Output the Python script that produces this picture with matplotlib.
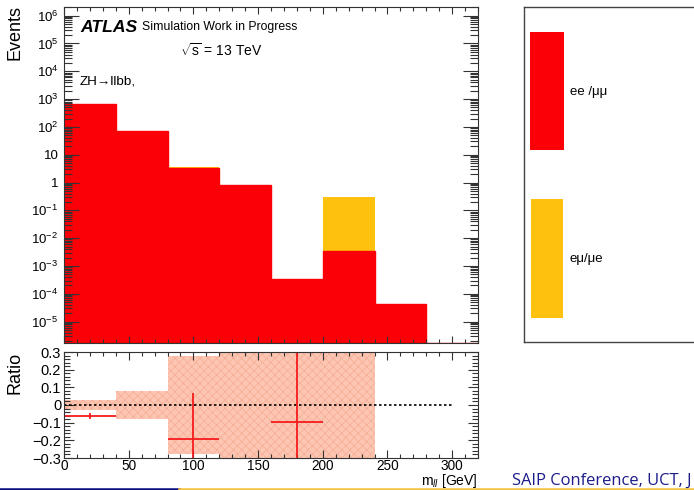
import numpy as np
import matplotlib.pyplot as plt
from matplotlib.patches import Rectangle
from matplotlib.lines import Line2D
from matplotlib.ticker import (LogLocator, FuncFormatter, NullFormatter,
                               MultipleLocator, AutoMinorLocator)

plt.rcParams['font.family'] = ['Liberation Sans', 'DejaVu Sans']
plt.rcParams['mathtext.fontset'] = 'custom'
plt.rcParams['mathtext.rm'] = 'Liberation Sans'
plt.rcParams['mathtext.it'] = 'Liberation Sans:italic'
plt.rcParams['mathtext.bf'] = 'Liberation Sans:bold'
plt.rcParams['hatch.linewidth'] = 0.4

# m_ll bins [GeV] and stacked yields
edges = np.arange(0, 321, 40)
ee_mumu = np.array([680, 69, 3.4, 0.85, 3.5e-4, 3.4e-3, 4.3e-5, 0])
emu_mue = np.array([0, 0, 0.15, 0, 0, 0.297, 0, 0])

# ratio panel: uncertainty band per bin and the measured points
band_err = np.array([0.03, 0.08, 0.28, 1.0, 1.0, 1.0, np.nan, np.nan])
ratio_x = [20, 100, 180]
ratio_y = [-0.063, -0.19, -0.095]
ratio_yerr = [0.016, 0.26, 1.0]
ratio_xerr = 20
ref_end = 300

RED = '#fb0007'
ORANGE = '#fec20e'
BAND = '#fcc6b2'
NAVY = '#1c1c8a'

W, H = 694, 490
fig = plt.figure(figsize=(W / 100, H / 100), dpi=100)


def box(x0, y0, x1, y1):
    return [x0 / W, 1 - y1 / H, (x1 - x0) / W, (y1 - y0) / H]


def label(x, y, s, **kw):
    # place text by pixel position from the top-left corner
    return fig.text(x / W, 1 - y / H, s, **kw)


ax = fig.add_axes(box(64, 7, 478, 343))
rax = fig.add_axes(box(64, 352, 478, 458))
lax = fig.add_axes(box(524, 7, 740, 342))

ylo, yhi = 1.7e-6, 2.05e6
left = edges[:-1]
width = np.diff(edges)

ax.bar(left, ee_mumu, width=width, align='edge', color=RED, linewidth=0)
ax.bar(left, emu_mue, width=width, bottom=ee_mumu, align='edge',
       color=ORANGE, linewidth=0)
ax.stairs(np.clip(ee_mumu, ylo, None), edges, baseline=None, color=RED, lw=1)
ax.set_yscale('log')
ax.set_xlim(0, 320)
ax.set_ylim(ylo, yhi)


def log_label(v, pos):
    n = int(round(np.log10(v)))
    if n < -5 or n > 6:
        return ''
    if n == 0:
        return '1'
    if n == 1:
        return '10'
    return r'$10^{%d}$' % n


ax.yaxis.set_major_locator(LogLocator(base=10, numticks=20))
ax.yaxis.set_minor_locator(LogLocator(base=10, subs=np.arange(2, 10), numticks=20))
ax.yaxis.set_major_formatter(FuncFormatter(log_label))
ax.yaxis.set_minor_formatter(NullFormatter())
ax.xaxis.set_major_locator(MultipleLocator(50))
ax.xaxis.set_minor_locator(MultipleLocator(10))
ax.tick_params(axis='both', which='both', direction='in', top=True, right=True,
               labelbottom=False, color='#333333', width=0.8)
ax.tick_params(axis='y', which='major', length=11, labelsize=9.5, pad=4)
ax.tick_params(axis='y', which='minor', length=6)
ax.tick_params(axis='x', which='major', length=5)
ax.tick_params(axis='x', which='minor', length=3)
for s in ax.spines.values():
    s.set_color('#333333')
    s.set_linewidth(0.8)

label(80, 27, 'ATLAS', fontsize=12.6, fontweight='bold', fontstyle='italic',
      va='center', ha='left')
label(142, 27, 'Simulation Work in Progress', fontsize=8.8,
      va='center', ha='left')
label(180, 51, r'$\sqrt{\mathrm{s}}$ = 13 TeV', fontsize=10,
      va='center', ha='left')
label(80, 81, 'ZH→llbb,', fontsize=9.7, va='center', ha='left')
label(15, 5, 'Events', fontsize=13, rotation=90, va='top', ha='center')

# ratio panel
ok = ~np.isnan(band_err)
rax.bar(left[ok], 2 * band_err[ok], width=width[ok], bottom=-band_err[ok],
        align='edge', facecolor=BAND, edgecolor='#f4a78e', hatch='xxxx',
        linewidth=0)
rax.hlines(0, 0, ref_end, colors='black', linestyles=(0, (1.5, 1.5)), lw=1.2)
rax.errorbar(ratio_x, ratio_y, xerr=ratio_xerr, yerr=ratio_yerr, fmt='none',
             ecolor='#f51c1c', elinewidth=1.3, capsize=0)
rax.set_xlim(0, 320)
rax.set_ylim(-0.3, 0.3)
rax.xaxis.set_major_locator(MultipleLocator(50))
rax.xaxis.set_minor_locator(MultipleLocator(10))
rax.yaxis.set_major_locator(MultipleLocator(0.1))
rax.yaxis.set_minor_locator(AutoMinorLocator(5))
rax.yaxis.set_major_formatter(FuncFormatter(
    lambda v, p: '0' if abs(v) < 1e-9 else ('%.1f' % v).replace('-', '\u2212')))
rax.tick_params(axis='both', which='both', direction='in', top=True, right=True,
                color='#333333', width=0.8)
rax.tick_params(axis='y', which='major', length=7, pad=2, labelsize=10.5)
rax.tick_params(axis='y', which='minor', length=4)
rax.tick_params(axis='x', which='major', length=6, pad=0.5, labelsize=9.8)
rax.tick_params(axis='x', which='minor', length=3)
for s in rax.spines.values():
    s.set_color('#333333')
    s.set_linewidth(0.8)
label(15, 352, 'Ratio', fontsize=13, rotation=90, va='top', ha='center')
label(478, 489.5, r'm$_{ll}$ [GeV]', fontsize=10, va='bottom', ha='right')

# legend
lax.set_xlim(0, 1)
lax.set_ylim(0, 1)
lax.set_xticks([])
lax.set_yticks([])
for s in lax.spines.values():
    s.set_color('#444444')
    s.set_linewidth(1)
lax.add_patch(Rectangle((0.029, 0.573), 0.154, 0.353, color=RED, lw=0))
lax.add_patch(Rectangle((0.033, 0.072), 0.149, 0.355, color=ORANGE, lw=0))
lax.text(0.2115, 0.746, 'ee /μμ', fontsize=9.5, va='center', ha='left')
lax.text(0.2115, 0.248, 'eμ/μe', fontsize=9.5, va='center', ha='left')

# slide footer
label(512, 489, 'SAIP Conference, UCT, J', fontsize=11.9, color=NAVY,
      va='bottom', ha='left', family=['Open Sans', 'DejaVu Sans'])
fig.add_artist(Line2D([0, 179 / W], [1.2 / H, 1.2 / H], color='#0a0a80', lw=1.8))
fig.add_artist(Line2D([179 / W, 1], [1.2 / H, 1.2 / H], color='#f3c23a', lw=1.8))

fig.savefig('out.png', dpi=100)
